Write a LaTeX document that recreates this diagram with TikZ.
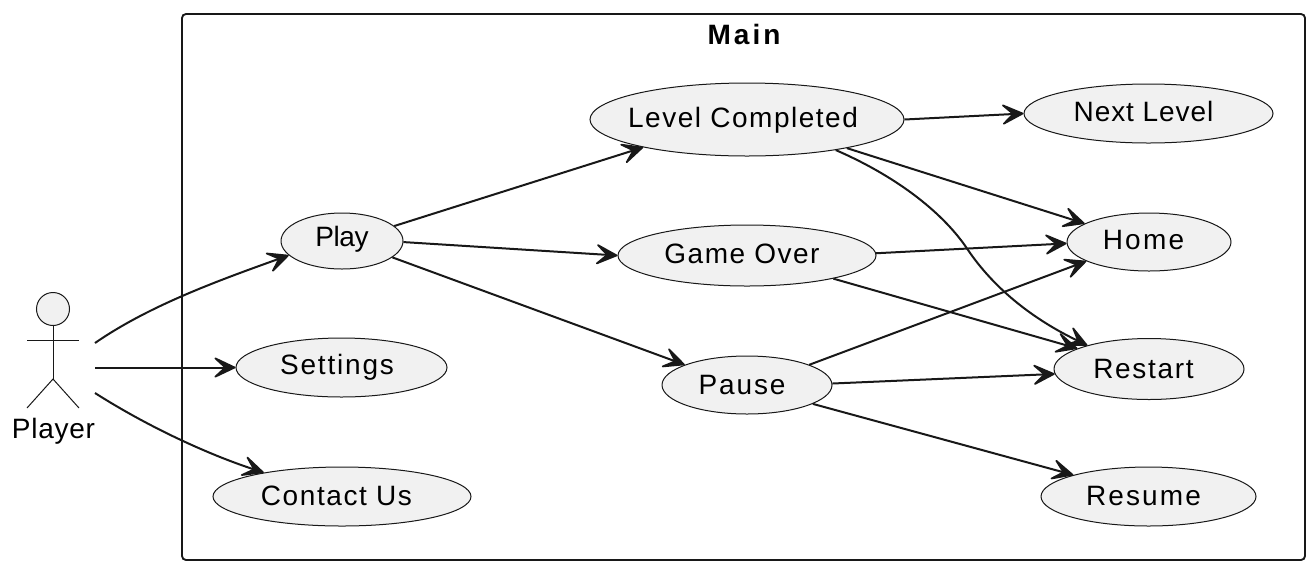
\documentclass[tikz,border=0pt]{standalone}
\usepackage{fontspec}
\setmainfont{Liberation Sans}
\usetikzlibrary{arrows.meta,shapes.geometric}
\definecolor{fillc}{HTML}{F1F1F1}
\definecolor{linec}{HTML}{181818}
\newdimen\pxu \pxu=0.75pt
% letter spacing, right kern (shifts text left by half), rise of baseline, text
\newcommand\tx[4]{\raisebox{#3\pxu}[0pt][0pt]{\makebox[0pt][c]{\addfontfeatures{LetterSpace=#1}#4\kern#2\pxu\relax}}}
\tikzset{
  x=0.75pt,y=-0.75pt,
  labeltext/.style={inner sep=0pt,text height=0pt,text depth=0pt,font=\fontsize{21}{24}\selectfont,text=black},
  usecase/.style={labeltext,ellipse,draw=linec,fill=fillc,line width=0.75pt},
  conn/.style={draw=linec,line width=1.5pt,-{Stealth[round,length=19.5pt,width=18.5pt,inset=10pt,line width=1.3pt]}},
  stick/.style={draw=linec,line width=0.75pt},
  frame/.style={draw=linec,line width=1.4pt,rounded corners=3pt}
}
\begin{document}
\begin{tikzpicture}
\useasboundingbox (0,0) rectangle (1316,572);
\draw[frame] (182,14) rectangle (1305,560);
\node[labeltext,font=\fontsize{21}{24}\selectfont\bfseries] (title) at (744,35) {\tx{11}{0}{-9}{Main}};

\node[usecase,minimum width=91.5pt,minimum height=42pt] (play) at (342,241) {\tx{-1.7}{0}{-5}{Play}};
\node[usecase,minimum width=158.25pt,minimum height=44.25pt] (settings) at (341.5,367.5) {\tx{6.5}{9}{-6.5}{Settings}};
\node[usecase,minimum width=193.5pt,minimum height=44.25pt] (contact) at (342,496.5) {\tx{5.6}{11}{-8.5}{Contact Us}};
\node[usecase,minimum width=235.5pt,minimum height=54.75pt] (level) at (747,119.5) {\tx{5.4}{8}{-7.5}{Level Completed}};
\node[usecase,minimum width=193.5pt,minimum height=45.75pt] (game) at (747,255.5) {\tx{5.3}{10}{-7.5}{Game Over}};
\node[usecase,minimum width=127.5pt,minimum height=43.5pt] (pause) at (747,385) {\tx{6.8}{10}{-9}{Pause}};
\node[usecase,minimum width=186.75pt,minimum height=44.25pt] (next) at (1148.5,113.5) {\tx{3.3}{10}{-7.5}{Next Level}};
\node[usecase,minimum width=123pt,minimum height=43.5pt] (home) at (1149,242) {\tx{8}{11}{-7}{Home}};
\node[usecase,minimum width=142.5pt,minimum height=45.75pt] (restart) at (1149,369) {\tx{6}{11}{-9}{Restart}};
\node[usecase,minimum width=161.25pt,minimum height=44.25pt] (resume) at (1148.5,496.5) {\tx{7.5}{10}{-8.5}{Resume}};

% actor
\node[circle,draw=linec,fill=fillc,line width=0.75pt,minimum size=24.75pt,inner sep=0pt] (head) at (53,309) {};
\coordinate (hip) at (53,379);
\coordinate (arml) at (27,340);
\coordinate (armr) at (79,340);
\coordinate (footl) at (27,408);
\coordinate (footr) at (79,408);
\draw[stick] (head.south) -- (hip);
\draw[stick] (arml) -- (armr);
\draw[stick] (footl) -- (hip) -- (footr);
\node[labeltext] (player) at (53.5,428) {\tx{2.6}{0}{-10}{Player}};
\coordinate (p1) at (95,343);
\coordinate (p2) at (95,367.5);
\coordinate (p3) at (95,393);

\draw[conn] (p1) .. controls (150,305) and (220,280) .. (play.195.8);
\draw[conn] (p2) -- (settings.180);
\draw[conn] (p3) .. controls (150,428) and (210,455) .. (contact.163.7);

\draw[conn] (play.16.5) -- (level.195.3);
\draw[conn] (play.-1) -- (game.180);
\draw[conn] (play.-18.8) -- (pause.162.4);

\draw[conn] (level.0.5) -- (next.180.7);
\draw[conn] (level.-16.2) -- (home.164.3);
\coordinate (bend) at (968,250);
\draw[conn] (level.-19.7) .. controls (900,178) and (945,215) .. (bend) .. controls (1000,297) and (1045,325) .. (restart.159.5);

\draw[conn] (game.1.5) -- (home.181.4);
\draw[conn] (game.-15.5) -- (restart.164.7);

\draw[conn] (pause.18.7) -- (home.197.3);
\draw[conn] (pause.1.3) -- (restart.183);
\draw[conn] (pause.-16) -- (resume.164.7);
\end{tikzpicture}
\end{document}
